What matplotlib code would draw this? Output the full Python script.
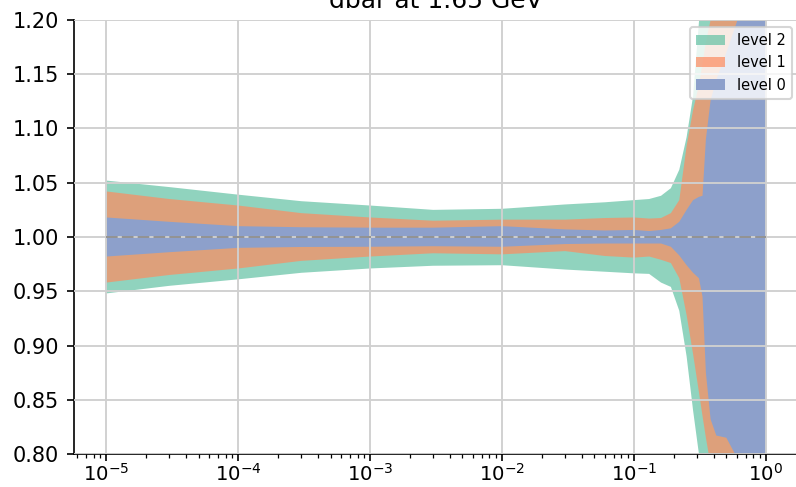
import numpy as np
import matplotlib
matplotlib.use('Agg')
import matplotlib.pyplot as plt

# momentum fraction grid
x = [1e-5, 3e-5, 1e-4, 3e-4, 1e-3, 3e-3, 1e-2, 3e-2, 0.06, 0.1, 0.13, 0.16,
     0.19, 0.22, 0.25, 0.28, 0.31, 0.33, 0.35, 0.38, 0.42, 0.5, 0.6, 0.75, 1.0]

# ratio bands for each level (upper / lower edge)
level2_hi = [1.052, 1.046, 1.039, 1.033, 1.029, 1.025, 1.026, 1.030, 1.032, 1.034, 1.035, 1.038,
             1.045, 1.062, 1.092, 1.13, 1.198, 1.24, 1.28, 1.32, 1.36, 1.45, 1.55, 1.65, 1.75]
level2_lo = [0.948, 0.955, 0.961, 0.967, 0.971, 0.9735, 0.974, 0.970, 0.968, 0.9665, 0.966, 0.958,
             0.954, 0.932, 0.89, 0.84, 0.80, 0.78, 0.76, 0.74, 0.70, 0.65, 0.60, 0.55, 0.50]
level1_hi = [1.042, 1.035, 1.029, 1.022, 1.018, 1.015, 1.016, 1.016, 1.0175, 1.018, 1.017, 1.0175,
             1.022, 1.034, 1.084, 1.117, 1.14, 1.16, 1.18, 1.20, 1.23, 1.28, 1.35, 1.45, 1.55]
level1_lo = [0.958, 0.965, 0.971, 0.978, 0.982, 0.985, 0.984, 0.987, 0.9825, 0.981, 0.982, 0.979,
             0.976, 0.962, 0.928, 0.892, 0.857, 0.835, 0.815, 0.79, 0.76, 0.72, 0.68, 0.64, 0.60]
level0_hi = [1.018, 1.014, 1.010, 1.009, 1.0086, 1.0086, 1.010, 1.007, 1.006, 1.0065, 1.0055, 1.0065,
             1.008, 1.014, 1.025, 1.034, 1.037, 1.038, 1.09, 1.126, 1.145, 1.17, 1.198, 1.25, 1.30]
level0_lo = [0.982, 0.986, 0.990, 0.9908, 0.991, 0.9915, 0.991, 0.9935, 0.994, 0.994, 0.994, 0.994,
             0.991, 0.983, 0.974, 0.967, 0.962, 0.945, 0.875, 0.832, 0.817, 0.815, 0.797, 0.75, 0.70]

colors = ['#66c2a5', '#fc8d62', '#8da0cb']  # Set2

fig = plt.figure(figsize=(796/150, 487/150), dpi=150)
ax = fig.add_axes([73.5/796, 33/487, (799-73.5)/796, 434/487])

ax.fill_between(x, level2_lo, level2_hi, color=colors[0], alpha=0.72, lw=0, label='level 2')
ax.fill_between(x, level1_lo, level1_hi, color=colors[1], alpha=0.72, lw=0, label='level 1')
ax.fill_between(x, level0_lo, level0_hi, color=colors[2], alpha=1.0, lw=0, label='level 0')
ax.plot([x[0], x[-1]], [1, 1], color='#888888', lw=0.8, ls=(0, (7, 2.5)), zorder=3)

ax.set_xscale('log')
ax.set_xlim(10**-5.25, 10**0.25)
ax.set_ylim(0.8, 1.2)
ax.set_axisbelow(False)
ax.grid(True, color='#d0d0d0', lw=0.9)
ax.tick_params(axis='x', which='major', pad=1, labelsize=9.5)
ax.spines['top'].set_visible(False)
ax.spines['right'].set_visible(False)
ax.set_title('dbar at 1.65 GeV', fontsize=12)
ax.legend(loc='upper right', fontsize=7)

fig.savefig('out.png', dpi=150)
